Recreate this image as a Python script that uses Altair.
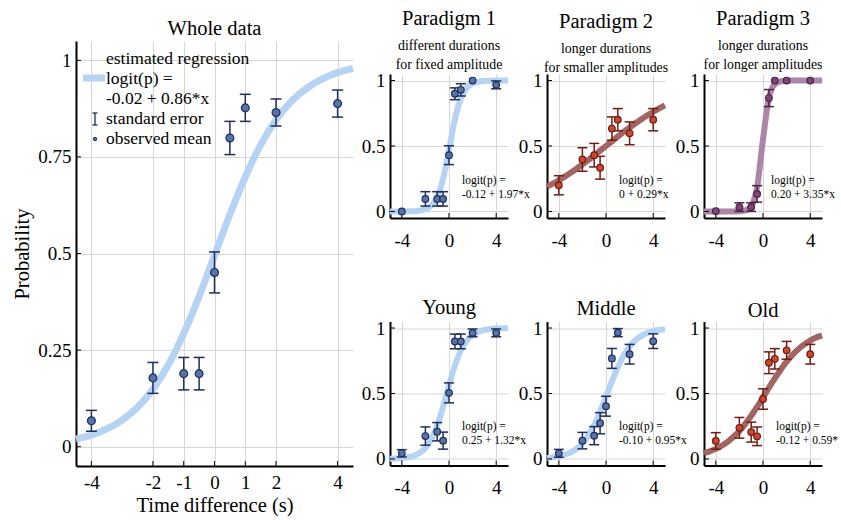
import altair as alt
import pandas as pd

SERIF = "Liberation Serif"

# ---------------- data ----------------
# fitted-curve samples
main_curve_x = [-4.5, -4, -3.5, -3, -2.5, -2, -1.5, -1, -0.5, 0, 0.5, 1, 1.5, 2, 2.5, 3, 3.5, 4, 4.5]
whole_curve = [0.020, 0.030, 0.046, 0.069, 0.102, 0.149, 0.212, 0.293, 0.389, 0.495,
               0.601, 0.698, 0.781, 0.846, 0.894, 0.928, 0.952, 0.968, 0.979]

small_curve_x = [-5, -4.5, -4, -3.5, -3, -2.5, -2, -1.5, -1, -0.5, 0,
                 0.5, 1, 1.5, 2, 2.5, 3, 3.5, 4, 4.5, 5]
p1_curve = [0.000, 0.000, 0.000, 0.001, 0.002, 0.006, 0.017, 0.044, 0.110, 0.249, 0.470,
            0.704, 0.864, 0.945, 0.979, 0.992, 0.997, 0.999, 1.000, 1.000, 1.000]
p2_curve = [0.190, 0.213, 0.239, 0.266, 0.295, 0.326, 0.359, 0.393, 0.428, 0.464, 0.500,
            0.536, 0.572, 0.607, 0.641, 0.674, 0.705, 0.734, 0.761, 0.787, 0.810]
p3_curve = [0.000, 0.000, 0.000, 0.000, 0.000, 0.000, 0.002, 0.008, 0.041, 0.186, 0.550,
            0.867, 0.972, 0.995, 0.999, 1.000, 1.000, 1.000, 1.000, 1.000, 1.000]
young_curve = [0.002, 0.003, 0.007, 0.013, 0.024, 0.045, 0.084, 0.151, 0.255, 0.399, 0.562,
               0.713, 0.828, 0.903, 0.947, 0.972, 0.985, 0.992, 0.996, 0.998, 0.999]
middle_curve = [0.008, 0.012, 0.020, 0.032, 0.050, 0.078, 0.119, 0.179, 0.259, 0.360, 0.475,
                0.593, 0.701, 0.790, 0.858, 0.907, 0.940, 0.962, 0.976, 0.985, 0.991]
old_curve = [0.044, 0.059, 0.077, 0.101, 0.131, 0.169, 0.214, 0.268, 0.330, 0.398, 0.470,
             0.544, 0.615, 0.682, 0.743, 0.795, 0.839, 0.875, 0.904, 0.927, 0.944]

# observed means and standard errors
obs_x9 = [-4, -2, -1, -0.5, 0, 0.5, 1, 2, 4]
obs_x8 = [-4, -2, -1, -0.5, 0.5, 1, 2, 4]

whole_mean = [0.067, 0.178, 0.189, 0.189, 0.451, 0.799, 0.877, 0.865, 0.888]
whole_se = [0.027, 0.040, 0.042, 0.042, 0.053, 0.043, 0.035, 0.035, 0.035]
p1_mean = [0.000, 0.096, 0.096, 0.096, 0.430, 0.899, 0.929, 1.000, 0.967]
p1_se = [0.000, 0.055, 0.055, 0.055, 0.072, 0.045, 0.047, 0.000, 0.030]
p2_mean = [0.200, 0.397, 0.430, 0.334, 0.633, 0.701, 0.597, 0.701]
p2_se = [0.073, 0.090, 0.090, 0.087, 0.089, 0.085, 0.087, 0.085]
p3_mean = [0.003, 0.033, 0.033, 0.134, 0.866, 1.000, 1.000, 1.000]
p3_se = [0.000, 0.033, 0.033, 0.063, 0.065, 0.000, 0.000, 0.000]
young_mean = [0.043, 0.175, 0.208, 0.140, 0.505, 0.898, 0.898, 0.963, 0.963]
young_se = [0.028, 0.070, 0.070, 0.065, 0.076, 0.056, 0.056, 0.030, 0.030]
middle_mean = [0.043, 0.140, 0.178, 0.273, 0.403, 0.768, 0.965, 0.800, 0.900]
middle_se = [0.030, 0.063, 0.069, 0.081, 0.076, 0.076, 0.031, 0.075, 0.056]
old_mean = [0.138, 0.238, 0.205, 0.173, 0.458, 0.735, 0.765, 0.830, 0.800]
old_se = [0.063, 0.079, 0.076, 0.071, 0.078, 0.083, 0.078, 0.068, 0.075]

main_xticks = [-4, -2, -1, 0, 1, 2, 4]
main_yticks = [0, 0.25, 0.5, 0.75, 1]
small_xticks = [-4, 0, 4]
small_yticks = [0, 0.5, 1]

BLUE = {"curve": "#B7D3F3", "fill": "#5773A8", "stroke": "#1F2E5B"}
RED = {"curve": "#A26563", "fill": "#C8492E", "stroke": "#731A12"}
PURPLE = {"curve": "#AA86A9", "fill": "#7D4678", "stroke": "#4F2249"}

TICK_FS = 19


def make_panel(curve_x, curve_p, ox, om, ose, theme, width, height, xdom, xticks, yticks,
               title, subtitle=None, ann=None, ann_x=72, ann_y=100, ann_limit=0,
               title_offset=0, main=False):
    xs = alt.Scale(domain=xdom, nice=False, zero=False)
    ys = alt.Scale(domain=[-0.05, 1.05], nice=False, zero=False)
    lw = 7 if main else 6
    cap = 11 if main else 10
    ptsize = 62 if main else 44

    xaxis_kw = dict(values=xticks, labelExpr="toString(datum.value)", grid=True, ticks=False,
                    labelPadding=7 if main else 13, labelFontSize=TICK_FS, domainWidth=2,
                    labelFlush=False, labelOverlap=False)
    yaxis_kw = dict(values=yticks, labelExpr="toString(datum.value)", grid=True, ticks=False,
                    labelPadding=5, labelFontSize=TICK_FS, domainWidth=2,
                    labelFlush=False, labelOverlap=False)
    if main:
        xaxis_kw["title"] = "Time difference (s)"
        xaxis_kw["titlePadding"] = 3
        yaxis_kw["title"] = "Probability"
        yaxis_kw["titlePadding"] = 5
    else:
        xaxis_kw["title"] = ""
        yaxis_kw["title"] = ""
    XA = alt.Axis(**xaxis_kw)
    YA = alt.Axis(**yaxis_kw)

    def X(f):
        return alt.X(f, scale=xs, axis=XA)

    def Y(f):
        return alt.Y(f, scale=ys, axis=YA)

    curve = alt.Chart(pd.DataFrame({"x": curve_x, "p": curve_p})).mark_line(
        color=theme["curve"], strokeWidth=lw, interpolate="monotone", strokeCap="butt"
    ).encode(x=X("x:Q"), y=Y("p:Q"))

    tx = alt.Chart(pd.DataFrame({"x": xticks})).mark_rule(color="black", strokeWidth=1).encode(
        x=X("x:Q"), y=alt.value(height), y2=alt.value(height - 5))
    ty = alt.Chart(pd.DataFrame({"p": yticks})).mark_rule(color="black", strokeWidth=1).encode(
        y=Y("p:Q"), x=alt.value(0), x2=alt.value(5))

    df = pd.DataFrame({"x": ox, "m": om, "se": ose})
    df["lo"] = df["m"] - df["se"]
    df["hi"] = df["m"] + df["se"]
    base = alt.Chart(df)
    eb = base.transform_filter("datum.se > 0")
    bar = eb.mark_rule(color=theme["stroke"], strokeWidth=1.5).encode(
        x=X("x:Q"), y=Y("lo:Q"), y2="hi:Q")
    cap_lo = eb.mark_tick(orient="horizontal", size=cap, thickness=1.5, color=theme["stroke"],
                          opacity=1).encode(x=X("x:Q"), y=Y("lo:Q"))
    cap_hi = eb.mark_tick(orient="horizontal", size=cap, thickness=1.5, color=theme["stroke"],
                          opacity=1).encode(x=X("x:Q"), y=Y("hi:Q"))
    pts = base.mark_circle(size=ptsize, fill=theme["fill"], stroke=theme["stroke"],
                           strokeWidth=1.2, opacity=1).encode(x=X("x:Q"), y=Y("m:Q"))

    layers = [curve, tx, ty, bar, cap_lo, cap_hi, pts]
    one = pd.DataFrame({"a": [0]})

    if ann is not None:
        tkw = dict(align="left", baseline="middle", font=SERIF, fontSize=11.5, color="black",
                   text=ann, lineHeight=14)
        if ann_limit:
            tkw["limit"] = ann_limit
            tkw["ellipsis"] = "\u200b"
        annot = alt.Chart(one).mark_text(**tkw).encode(x=alt.value(ann_x), y=alt.value(ann_y))
        layers.append(annot)

    if main:
        leg_text = alt.Chart(one).mark_text(
            align="left", baseline="middle", font=SERIF, fontSize=17.5, color="black",
            lineHeight=20,
            text=["estimated regression", "logit(p) =", "-0.02 + 0.86*x", "standard error",
                  "observed mean"]).encode(x=alt.value(30), y=alt.value(18))
        leg_line = alt.Chart(one).mark_rule(color=theme["curve"], strokeWidth=7).encode(
            x=alt.value(7), x2=alt.value(29), y=alt.value(37))
        leg_eb = alt.Chart(one).mark_rule(color=theme["stroke"], strokeWidth=1.3).encode(
            x=alt.value(19), y=alt.value(72), y2=alt.value(84))
        leg_c1 = alt.Chart(one).mark_rule(color=theme["stroke"], strokeWidth=1.3).encode(
            x=alt.value(16.5), x2=alt.value(21.5), y=alt.value(72))
        leg_c2 = alt.Chart(one).mark_rule(color=theme["stroke"], strokeWidth=1.3).encode(
            x=alt.value(16.5), x2=alt.value(21.5), y=alt.value(84))
        leg_dot = alt.Chart(one).mark_circle(size=12, fill=theme["fill"], stroke=theme["stroke"],
                                             strokeWidth=1, opacity=1).encode(
            x=alt.value(19), y=alt.value(98))
        layers += [leg_line, leg_eb, leg_c1, leg_c2, leg_dot, leg_text]

    tparams = dict(text=title, fontSize=20.5, font=SERIF, fontWeight="normal", color="black",
                   offset=title_offset, frame="group", anchor="middle")
    if subtitle is not None:
        tparams.update(subtitle=subtitle, subtitleFont=SERIF, subtitleFontSize=13.8,
                       subtitleColor="black", subtitleLineHeight=19, subtitlePadding=9)

    return alt.layer(*layers).properties(width=width, height=height,
                                         title=alt.TitleParams(**tparams))


SW, SH = 118, 144
SX = [-5, 5]

main = make_panel(main_curve_x, whole_curve, obs_x9, whole_mean, whole_se, BLUE, 277, 425,
                  [-4.5, 4.5], main_xticks, main_yticks, "Whole data", title_offset=2,
                  main=True)

p1 = make_panel(small_curve_x, p1_curve, obs_x9, p1_mean, p1_se, BLUE, SW, SH, SX,
                small_xticks, small_yticks, "Paradigm 1",
                subtitle=["different durations", "for fixed amplitude"],
                ann=["logit(p) =", "-0.12 + 1.97*x"], ann_x=72, ann_y=107, title_offset=-3)
p2 = make_panel(small_curve_x, p2_curve, obs_x8, p2_mean, p2_se, RED, SW, SH, SX,
                small_xticks, small_yticks, "Paradigm 2",
                subtitle=["longer durations", "for smaller amplitudes"],
                ann=["logit(p) =", "0 + 0.29*x"], ann_x=72, ann_y=107, title_offset=-3)
p3 = make_panel(small_curve_x, p3_curve, obs_x8, p3_mean, p3_se, PURPLE, SW, SH, SX,
                small_xticks, small_yticks, "Paradigm 3",
                subtitle=["longer durations", "for longer amplitudes"],
                ann=["logit(p) =", "0.20 + 3.35*x"], ann_x=67, ann_y=107, title_offset=-3)
young = make_panel(small_curve_x, young_curve, obs_x9, young_mean, young_se, BLUE, SW, SH, SX,
                   small_xticks, small_yticks, "Young",
                   ann=["logit(p) =", "0.25 + 1.32*x"], ann_x=72, ann_y=105, title_offset=-2)
middle = make_panel(small_curve_x, middle_curve, obs_x9, middle_mean, middle_se, BLUE, SW, SH, SX,
                    small_xticks, small_yticks, "Middle",
                    ann=["logit(p) =", "-0.10 + 0.95*x"], ann_x=72, ann_y=105, title_offset=-2)
old = make_panel(small_curve_x, old_curve, obs_x9, old_mean, old_se, RED, SW, SH, SX,
                 small_xticks, small_yticks, "Old",
                 ann=["logit(p) =", "-0.12 + 0.59*x"], ann_x=72, ann_y=105, ann_limit=66,
                 title_offset=-2)

grid = alt.concat(p1, p2, p3, young, middle, old, columns=3, bounds="flush",
                  spacing=alt.RowColnumber(row=103.5, column=39))

spacer = alt.Chart(pd.DataFrame({"a": [0]})).mark_point(opacity=0).encode(
    x=alt.value(0), y=alt.value(0)).properties(width=SW, height=33)

right = alt.vconcat(spacer, grid, spacing=0, bounds="flush")

chart = alt.hconcat(main, right, spacing=37, bounds="flush").properties(
    padding={"left": 12, "top": 8, "right": 0, "bottom": 0}
).configure(
    font=SERIF, background="white"
).configure_view(
    stroke="transparent"
).configure_axis(
    labelFont=SERIF, titleFont=SERIF, labelColor="black", titleColor="black",
    titleFontSize=20.5, titleFontWeight="normal", domainColor="black",
    gridColor="#D6D6D6", gridWidth=1
)

chart.save("out.html", embed_options={"renderer": "svg", "actions": False})
